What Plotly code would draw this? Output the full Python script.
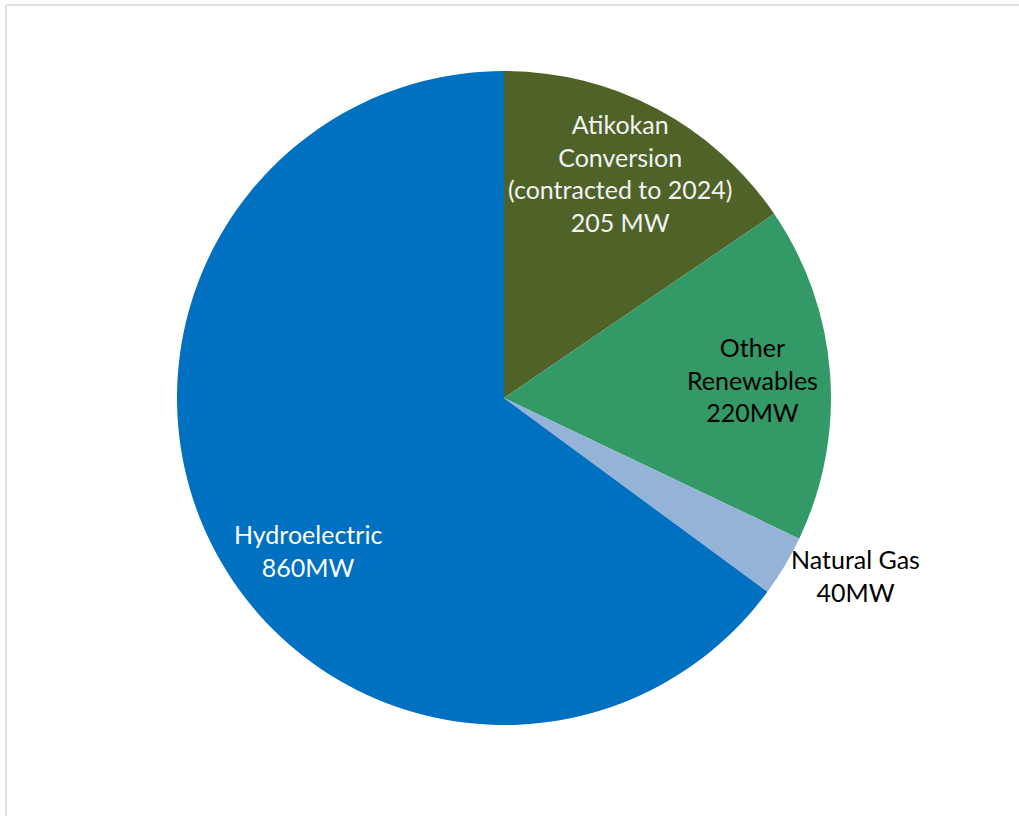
import plotly.graph_objects as go

# Data
labels = ["Atikokan<br>Conversion<br>(contracted to 2024)", "Other<br>Renewables", "Natural Gas", "Hydroelectric"]
value_text = ["205 MW", "220MW", "40MW", "860MW"]
values = [205, 220, 40, 860]
colors = ["#4F6228", "#339966", "#95B3D7", "#0070C0"]
text_colors = ["#F2F2F2", "#000000", "#000000", "#FFFFFF"]

W, H = 1019, 816
cx, cy, R = 504, 398, 327

fig = go.Figure(go.Pie(
    labels=[l.replace("<br>", " ") for l in labels],
    values=values,
    sort=False,
    direction="clockwise",
    rotation=0,
    marker=dict(colors=colors, line=dict(width=0)),
    textinfo="none",
    hoverinfo="label+value",
    showlegend=False,
    domain=dict(x=[(cx - R) / W, (cx + R) / W],
                y=[(H - cy - R) / H, (H - cy + R) / H]),
))

# label positions (pixels in figure)
label_pos = [(620, 173), (752, 379), (855, 575), (308, 550)]
annotations = []
for lab, vt, col, (px, py) in zip(labels, value_text, text_colors, label_pos):
    annotations.append(dict(
        x=px / W, y=1 - py / H, xref="paper", yref="paper",
        text=f"{lab}<br>{vt}", showarrow=False,
        xanchor="center", yanchor="middle", align="center",
        font=dict(family="Lato, Carlito, sans-serif", size=25, color=col),
    ))

border = dict(color="#D9D9D9", width=1.5)
fig.update_layout(
    width=W, height=H,
    margin=dict(l=0, r=0, t=0, b=0),
    paper_bgcolor="white", plot_bgcolor="white",
    annotations=annotations,
    shapes=[
        dict(type="line", xref="paper", yref="paper",
             x0=6 / W, y0=1 - 5 / H, x1=1, y1=1 - 5 / H, line=border),
        dict(type="line", xref="paper", yref="paper",
             x0=6 / W, y0=1 - 5 / H, x1=6 / W, y1=0, line=border),
    ],
)

fig.write_html("out.html", config={"displayModeBar": False},
               post_script="document.body.style.margin='0';")
